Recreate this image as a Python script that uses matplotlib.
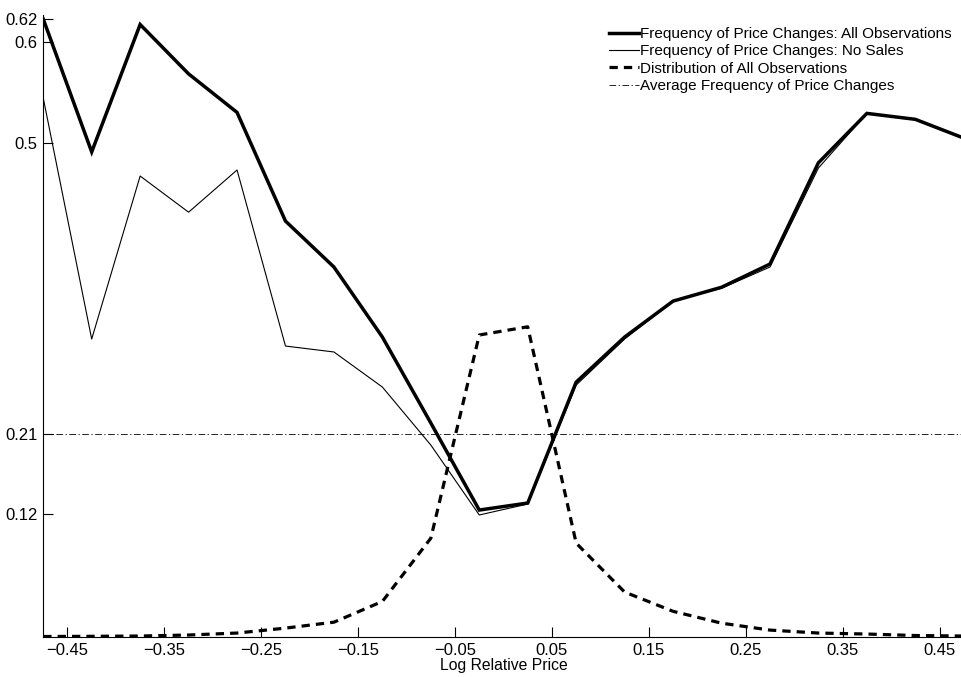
import numpy as np
import matplotlib
matplotlib.use("Agg")
import matplotlib.pyplot as plt

plt.rcParams["font.family"] = ["Liberation Sans", "DejaVu Sans"]
plt.rcParams["font.size"] = 11

# bin centres of log relative price
price = [-0.475, -0.425, -0.375, -0.325, -0.275, -0.225, -0.175, -0.125, -0.075, -0.025,
         0.025, 0.075, 0.125, 0.175, 0.225, 0.275, 0.325, 0.375, 0.425, 0.475]

freq_all = [0.6255, 0.491, 0.620, 0.570, 0.531, 0.421, 0.3745, 0.3036, 0.2166, 0.1285,
            0.1356, 0.258, 0.3036, 0.340, 0.354, 0.3775, 0.480, 0.530, 0.524, 0.505]
freq_nosales = [0.5455, 0.3016, 0.4666, 0.430, 0.4727, 0.2945, 0.2885, 0.253, 0.1943, 0.1235,
                0.1346, 0.255, 0.3016, 0.340, 0.353, 0.3745, 0.4747, 0.530, 0.524, 0.505]
dist_all = [0.0005, 0.0007, 0.001, 0.002, 0.004, 0.009, 0.015, 0.036, 0.100, 0.3057,
            0.314, 0.095, 0.0455, 0.026, 0.014, 0.007, 0.004, 0.003, 0.0015, 0.001]
avg_freq = 0.2055

ytick_pos = [0.1245, 0.2055, 0.5, 0.602, 0.6255]
ytick_lab = ["0.12", "0.21", "0.5", "0.6", "0.62"]
xtick_pos = [-0.45, -0.35, -0.25, -0.15, -0.05, 0.05, 0.15, 0.25, 0.35, 0.45]
xtick_lab = ["\u22120.45", "\u22120.35", "\u22120.25", "\u22120.15", "\u22120.05",
             "0.05", "0.15", "0.25", "0.35", "0.45"]

fig = plt.figure(figsize=(9.62, 6.77), dpi=100)
ax = fig.add_axes([43.25 / 962, 40 / 677, 920.5 / 962, 622 / 677])

ax.plot(price, freq_all, color="black", lw=2.5, solid_joinstyle="miter",
        label="Frequency of Price Changes: All Observations")
ax.plot(price, freq_nosales, color="black", lw=0.8,
        label="Frequency of Price Changes: No Sales")
ax.plot(price, dist_all, color="black", lw=2.3, linestyle=(0, (2.6, 1.9)),
        label="Distribution of All Observations")
ax.axhline(avg_freq, color="black", lw=0.6, linestyle=(0, (8, 3, 1.5, 3)),
           label="Average Frequency of Price Changes")

ax.set_xlim(-0.475, 0.475)
ax.set_ylim(0, 0.6296)
ax.set_xticks(xtick_pos)
ax.set_xticklabels(xtick_lab)
ax.set_yticks(ytick_pos)
ax.set_yticklabels(ytick_lab)
ax.tick_params(direction="in", length=7, width=0.8, pad=4, labelsize=12)
ax.set_xlabel("Log Relative Price", labelpad=0, fontsize=11.3)

for side in ["top", "right"]:
    ax.spines[side].set_visible(False)
for side in ["left", "bottom"]:
    ax.spines[side].set_linewidth(0.8)

ax.legend(loc="upper right", bbox_to_anchor=(952 / 962, (677 - 27) / 677),
          bbox_transform=fig.transFigure, frameon=False, borderpad=0, borderaxespad=0,
          handlelength=1.95, handletextpad=0.1, labelspacing=0.22, fontsize=11)

fig.savefig("out.png", dpi=100)
